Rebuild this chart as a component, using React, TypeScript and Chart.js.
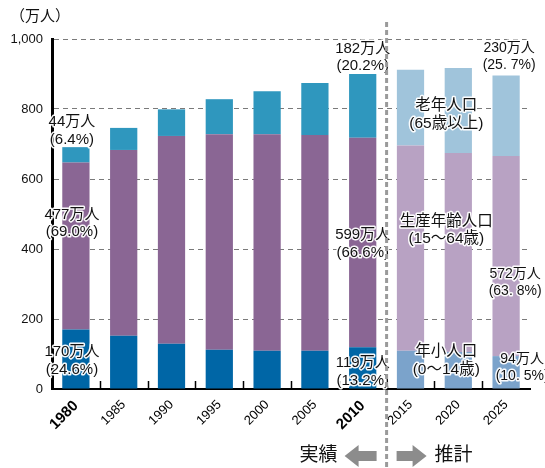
import React, { useEffect, useRef } from "react";
import { Chart, registerables } from "chart.js";
Chart.register(...registerables);

const years = ["1980", "1985", "1990", "1995", "2000", "2005", "2010", "2015", "2020", "2025"];
const young = [170, 152, 129, 112, 109, 109, 119, 109, 106, 94];
const working = [477, 531, 594, 616, 619, 617, 599, 587, 568, 572];
const elderly = [44, 63, 76, 100, 123, 148, 182, 216, 243, 230];
const yTickValues = [0, 200, 400, 600, 800, 1000];
const boldYears = ["1980", "2010"];
const actualCount = 7; // 1980-2010 actual, 2015- projection

const unitLabel = "（万人）";
const leftArrowText = "実績";
const rightArrowText = "推計";

type Note = { lines: string[]; idx: number; val: number; dx: number; size: number };
const notes: Note[] = [
  { lines: ["44万人", "(6.4%)"], idx: 0, val: 763, dx: -4, size: 15 },
  { lines: ["477万人", "(69.0%)"], idx: 0, val: 498, dx: -4, size: 15 },
  { lines: ["170万人", "(24.6%)"], idx: 0, val: 106, dx: -4, size: 15 },
  { lines: ["182万人", "(20.2%)"], idx: 6, val: 972, dx: 0, size: 15 },
  { lines: ["599万人", "(66.6%)"], idx: 6, val: 440, dx: 0, size: 15 },
  { lines: ["119万人", "(13.2%)"], idx: 6, val: 74, dx: 0, size: 15 },
  { lines: ["230万人", "(25. 7%)"], idx: 9, val: 975, dx: 3, size: 14 },
  { lines: ["老年人口", "(65歳以上)"], idx: 8, val: 809, dx: -12, size: 15.5 },
  { lines: ["生産年齢人口", "(15～64歳)"], idx: 8, val: 478, dx: -12, size: 15.5 },
  { lines: ["572万人", "(63. 8%)"], idx: 9, val: 329, dx: 9, size: 14 },
  { lines: ["年小人口", "(0～14歳)"], idx: 8, val: 106, dx: -12, size: 15.5 },
  { lines: ["94万人", "(10. 5%)"], idx: 9, val: 86, dx: 16, size: 14 },
];

const FONT = "'Liberation Sans', 'Noto Sans CJK JP', sans-serif";

const actualColors = { young: "#0066a6", working: "#8a6694", elderly: "#2f97be" };
const projColors = { young: "#7ba3cb", working: "#b8a2c3", elderly: "#a0c4db" };

const pick = (key: "young" | "working" | "elderly") =>
  years.map((_, i) => (i < actualCount ? actualColors[key] : projColors[key]));

const overlayPlugin = {
  id: "overlay",
  afterDatasetsDraw(chart: any) {
    const { ctx, chartArea, scales } = chart;
    const xs = scales.x;
    const ys = scales.y;
    ctx.save();
    // inward tick marks at category boundaries
    ctx.strokeStyle = "#000";
    ctx.lineWidth = 1.5;
    for (let i = 0; i < years.length - 1; i++) {
      const x = Math.round((xs.getPixelForValue(i) + xs.getPixelForValue(i + 1)) / 2) + 0.5;
      ctx.beginPath();
      ctx.moveTo(x, chartArea.bottom - 8);
      ctx.lineTo(x, chartArea.bottom);
      ctx.stroke();
    }
    // annotations
    ctx.textAlign = "center";
    ctx.textBaseline = "middle";
    ctx.lineJoin = "round";
    for (const n of notes) {
      const x = xs.getPixelForValue(n.idx) + n.dx;
      const y = ys.getPixelForValue(n.val);
      ctx.font = `${n.size}px ${FONT}`;
      n.lines.forEach((t, k) => {
        const yy = y + k * 17.5;
        ctx.strokeStyle = "rgba(255,255,255,0.95)";
        ctx.lineWidth = 3;
        ctx.strokeText(t, x, yy);
        ctx.fillStyle = "#111";
        ctx.fillText(t, x, yy);
      });
    }
    // separator
    const sepX = (xs.getPixelForValue(actualCount - 1) + xs.getPixelForValue(actualCount)) / 2;
    ctx.strokeStyle = "#9a9a9a";
    ctx.lineWidth = 3;
    ctx.setLineDash([5, 3]);
    ctx.beginPath();
    ctx.moveTo(sepX, 22);
    ctx.lineTo(sepX, chart.height);
    ctx.stroke();
    ctx.setLineDash([]);
    // arrows
    const ay = 456;
    ctx.fillStyle = "#8c8c8c";
    const arrow = (tipX: number, tailX: number) => {
      const dir = tailX > tipX ? 1 : -1;
      const headX = tipX + dir * 14;
      ctx.beginPath();
      ctx.moveTo(tipX, ay);
      ctx.lineTo(headX, ay - 11);
      ctx.lineTo(headX, ay - 5);
      ctx.lineTo(tailX, ay - 5);
      ctx.lineTo(tailX, ay + 5);
      ctx.lineTo(headX, ay + 5);
      ctx.lineTo(headX, ay + 11);
      ctx.closePath();
      ctx.fill();
    };
    arrow(sepX - 42, sepX - 10);
    arrow(sepX + 40, sepX + 10);
    ctx.fillStyle = "#111";
    ctx.font = `19px ${FONT}`;
    ctx.textAlign = "right";
    ctx.fillText(leftArrowText, sepX - 49, ay);
    ctx.textAlign = "left";
    ctx.fillText(rightArrowText, sepX + 48, ay);
    // unit label
    ctx.font = `15px 'Noto Sans CJK JP', sans-serif`;
    ctx.textAlign = "left";
    ctx.fillText(unitLabel, 10, 15);
    ctx.restore();
  },
};

export default function App() {
  const ref = useRef<HTMLCanvasElement | null>(null);
  useEffect(() => {
    document.body.style.margin = "0";
    const canvas = ref.current!;
    const chart = new Chart(canvas, {
      type: "bar",
      data: {
        labels: years,
        datasets: [
          { label: "年小人口", data: young, backgroundColor: pick("young") },
          { label: "生産年齢人口", data: working, backgroundColor: pick("working") },
          { label: "老年人口", data: elderly, backgroundColor: pick("elderly") },
        ],
      },
      options: {
        responsive: false,
        animation: false,
        devicePixelRatio: 1,
        layout: { padding: { top: 39, right: 15, left: 0, bottom: 0 } },
        datasets: { bar: { barPercentage: 0.57, categoryPercentage: 1 } },
        plugins: { legend: { display: false }, tooltip: { enabled: false } },
        scales: {
          x: {
            stacked: true,
            grid: { display: false, drawTicks: false },
            border: { display: true, color: "#000", width: 2 },
            ticks: {
              autoSkip: false,
              minRotation: 45,
              maxRotation: 45,
              padding: 8,
              color: "#000",
              font: (c: any) =>
                boldYears.includes(years[c.index])
                  ? { family: FONT, size: 15, weight: "bold" }
                  : { family: FONT, size: 13 },
            },
            afterFit: (s: any) => {
              s.height = 79;
            },
          },
          y: {
            stacked: true,
            min: 0,
            max: 1000,
            afterBuildTicks: (s: any) => {
              s.ticks = yTickValues.map((v) => ({ value: v }));
            },
            grid: {
              drawTicks: false,
              color: (c: any) => (c.tick && c.tick.value === 0 ? "rgba(0,0,0,0)" : "#7a7a7a"),
              lineWidth: 1,
            },
            border: { display: true, color: "#000", width: 3, dash: [5, 4] as any },
            ticks: {
              padding: 9,
              color: "#111",
              font: { family: FONT, size: 13 },
              callback: (v: any) => Number(v).toLocaleString("en-US"),
            },
            afterFit: (s: any) => {
              s.width = 52;
            },
          },
        },
      },
      plugins: [overlayPlugin],
    });
    return () => chart.destroy();
  }, []);
  return (
    <div style={{ width: 545, height: 468 }}>
      <canvas ref={ref} width={545} height={468} style={{ display: "block" }} />
    </div>
  );
}
